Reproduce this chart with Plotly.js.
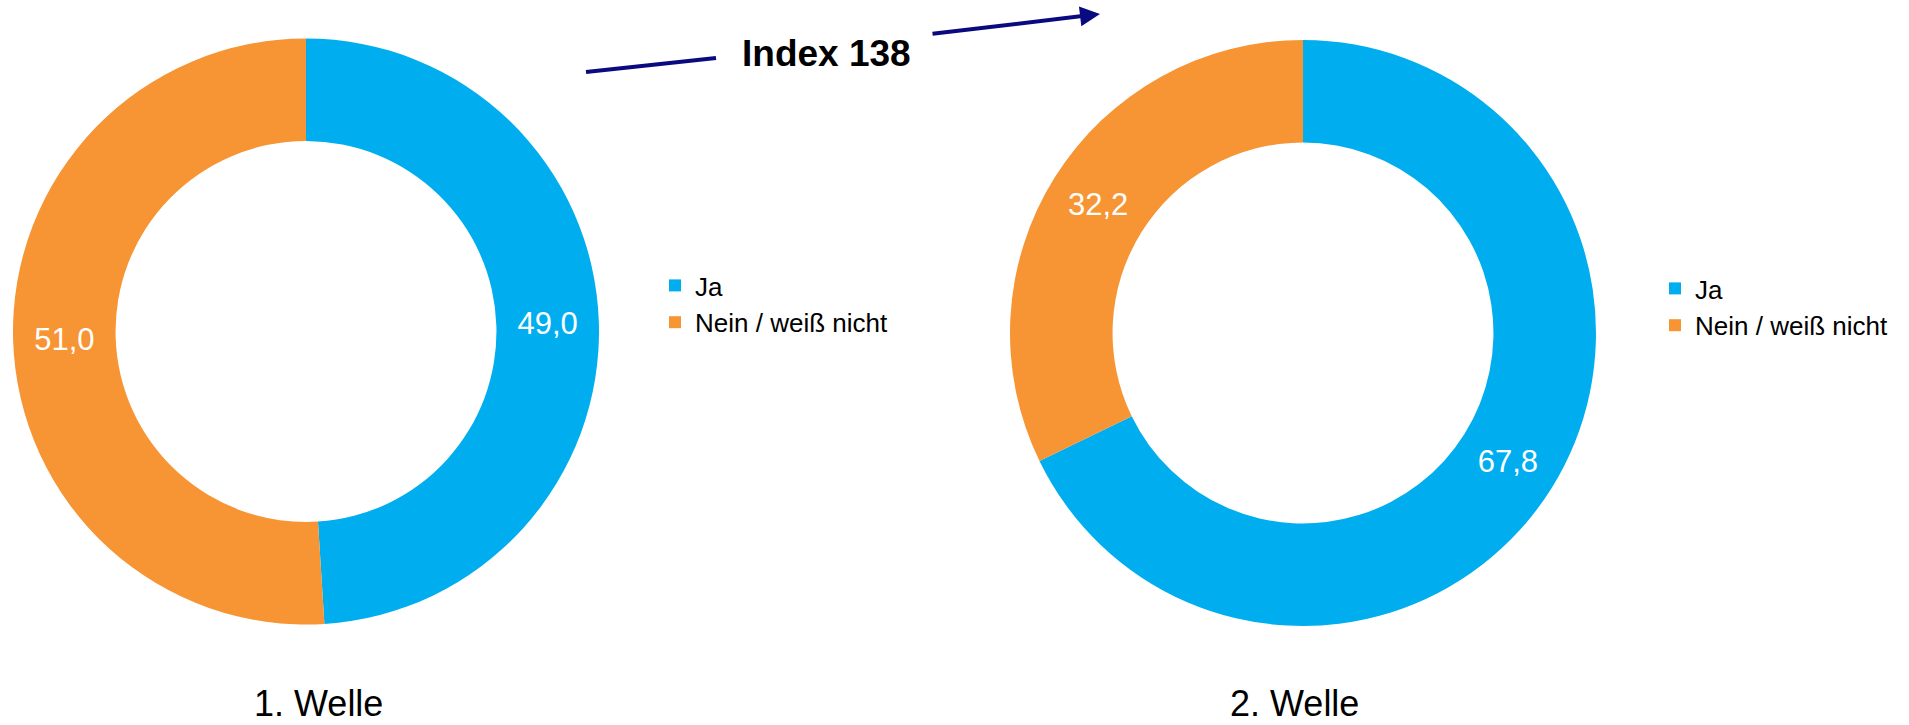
<!DOCTYPE html>
<html>
<head>
<meta charset="utf-8">
<script src="https://cdn.plot.ly/plotly-3.0.1.min.js"></script>
<style>
  html, body { margin: 0; padding: 0; background: #ffffff; }
  #chart { width: 1909px; height: 725px; }
</style>
</head>
<body>
<div id="chart"></div>
<script>
// ---- data ----
const categories = ['Ja', 'Nein / weiß nicht'];
const welle1 = [49.0, 51.0];
const welle2 = [67.8, 32.2];
const waveLabels = ['1. Welle', '2. Welle'];
const indexLabel = 'Index 138';

// ---- styles ----
const colors = ['#00AEEF', '#F79433'];
const FONT = 'Liberation Sans, Arial, sans-serif';
const W = 1909, H = 725;
const px = v => v / W;
const py = v => 1 - v / H;

function donut(values, domain, legendId, group) {
  return {
    type: 'pie',
    labels: categories,
    values: values,
    sort: false,
    direction: 'clockwise',
    rotation: 0,
    hole: 0.65,
    domain: domain,
    marker: { colors: colors, line: { width: 0 } },
    textposition: 'inside',
    insidetextorientation: 'horizontal',
    texttemplate: '%{value:.1f}',
    textfont: { family: FONT, size: 31, color: '#ffffff' },
    hoverinfo: 'label+value',
    legend: legendId,
    legendgroup: group,
    showlegend: true
  };
}

const traces = [
  donut(welle1, { x: [px(13), px(599)], y: [py(624.5), py(38.5)] }, 'legend', 'w1'),
  donut(welle2, { x: [px(1010), px(1596)], y: [py(626), py(40)] }, 'legend2', 'w2')
];

const legendBase = {
  font: { family: FONT, size: 26, color: '#000000' },
  bgcolor: 'rgba(0,0,0,0)',
  xanchor: 'left',
  yanchor: 'top',
  orientation: 'v',
  traceorder: 'normal'
};

const layout = {
  width: W,
  height: H,
  margin: { l: 0, r: 0, t: 0, b: 0 },
  paper_bgcolor: '#ffffff',
  plot_bgcolor: '#ffffff',
  separators: ',.',
  font: { family: FONT },
  legend: Object.assign({}, legendBase, { x: px(655), y: py(262) }),
  legend2: Object.assign({}, legendBase, { x: px(1655), y: py(265) }),
  shapes: [
    {
      type: 'line', xref: 'paper', yref: 'paper',
      x0: px(586), y0: py(72), x1: px(716), y1: py(58),
      line: { color: '#0A0A80', width: 4 }
    }
  ],
  annotations: [
    {
      xref: 'paper', yref: 'paper',
      x: px(1100), y: py(14),
      text: '', showarrow: true,
      axref: 'pixel', ayref: 'pixel',
      ax: -169, ay: 20,
      arrowhead: 2, arrowsize: 1, arrowwidth: 4,
      arrowcolor: '#0A0A80',
      standoff: 0
    },
    {
      xref: 'paper', yref: 'paper',
      x: px(826), y: py(54), xanchor: 'center', yanchor: 'middle',
      text: '<b>' + indexLabel + '</b>', showarrow: false,
      font: { family: FONT, size: 37, color: '#000000' }
    },
    {
      xref: 'paper', yref: 'paper',
      x: px(318), y: py(703), xanchor: 'center', yanchor: 'middle',
      text: waveLabels[0], showarrow: false, borderpad: 0,
      font: { family: FONT, size: 36, color: '#000000' }
    },
    {
      xref: 'paper', yref: 'paper',
      x: px(1294), y: py(703), xanchor: 'center', yanchor: 'middle',
      text: waveLabels[1], showarrow: false, borderpad: 0,
      font: { family: FONT, size: 36, color: '#000000' }
    }
  ]
};

Plotly.newPlot('chart', traces, layout, { displayModeBar: false, responsive: false });
</script>
</body>
</html>
